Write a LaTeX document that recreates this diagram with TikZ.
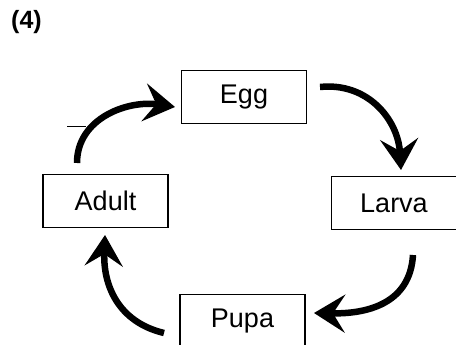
\documentclass[tikz,border=0pt]{standalone}
\usepackage{fontspec}
\setmainfont{Liberation Sans}
\usetikzlibrary{arrows.meta}
\begin{document}
\begin{tikzpicture}[x=1pt,y=-1pt,
  stagebox/.style={draw,line width=1.6pt,minimum width=125pt,minimum height=53pt,inner sep=0pt,font=\fontsize{27}{30}\selectfont},
  cyclearrow/.style={line width=6.5pt,-{Stealth[length=31pt,width=38pt,inset=12pt]}}]
\useasboundingbox (0,0) rectangle (456,345);
\clip (0,0) rectangle (456,345);
\node[font=\bfseries\fontsize{25}{28}\selectfont,anchor=north west,inner sep=0pt] (label) at (11,10) {(4)};
\node[stagebox] (egg) at (244,97) {Egg};
\node[stagebox] (adult) at (105.5,201) {Adult};
\node[stagebox] (larva) at (394,203) {Larva};
\node[stagebox] (pupa) at (242.5,321) {Pupa};
\coordinate (a1) at (77,163);
\coordinate (a2) at (175,107);
\coordinate (b1) at (320,87);
\coordinate (b2) at (401,170);
\coordinate (c1) at (413,255);
\coordinate (c2) at (314,313);
\coordinate (d1) at (164,333);
\coordinate (d2) at (105,235);
\coordinate (s1) at (67,126);
\coordinate (s2) at (86,126);
\draw[cyclearrow] (a1) .. controls (77,118) and (128,100) .. (a2);
\draw[cyclearrow] (b1) .. controls (368,82) and (398,120) .. (b2);
\draw[cyclearrow] (c1) .. controls (410,305) and (365,314) .. (c2);
\draw[cyclearrow] (d1) .. controls (118,322) and (103,285) .. (d2);
\draw[line width=0.8pt] (s1) -- (s2);
\end{tikzpicture}
\end{document}
